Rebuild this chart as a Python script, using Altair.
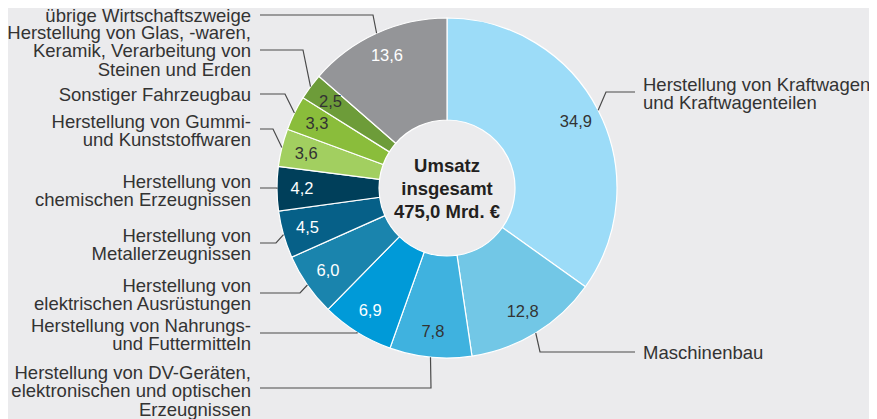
import math
import altair as alt
import pandas as pd

# ---- data ----
categories = [
    "Herstellung von Kraftwagen und Kraftwagenteilen",
    "Maschinenbau",
    "Herstellung von DV-Geräten, elektronischen und optischen Erzeugnissen",
    "Herstellung von Nahrungs- und Futtermitteln",
    "Herstellung von elektrischen Ausrüstungen",
    "Herstellung von Metallerzeugnissen",
    "Herstellung von chemischen Erzeugnissen",
    "Herstellung von Gummi- und Kunststoffwaren",
    "Sonstiger Fahrzeugbau",
    "Herstellung von Glas, -waren, Keramik, Verarbeitung von Steinen und Erden",
    "übrige Wirtschaftszweige",
]
label_texts = [
    "Herstellung von Kraftwagen\nund Kraftwagenteilen",
    "Maschinenbau",
    "Herstellung von DV-Geräten,\nelektronischen und optischen\nErzeugnissen",
    "Herstellung von Nahrungs-\nund Futtermitteln",
    "Herstellung von\nelektrischen Ausrüstungen",
    "Herstellung von\nMetallerzeugnissen",
    "Herstellung von\nchemischen Erzeugnissen",
    "Herstellung von Gummi-\nund Kunststoffwaren",
    "Sonstiger Fahrzeugbau",
    "Herstellung von Glas, -waren,\nKeramik, Verarbeitung von\nSteinen und Erden",
    "übrige Wirtschaftszweige",
]
values = [34.9, 12.8, 7.8, 6.9, 6.0, 4.5, 4.2, 3.6, 3.3, 2.5, 13.6]
value_labels = ["34,9", "12,8", "7,8", "6,9", "6,0", "4,5", "4,2", "3,6", "3,3", "2,5", "13,6"]
center_text = "Umsatz\ninsgesamt\n475,0 Mrd. €"

# ---- styles / layout ----
colors = ["#9cdcf8", "#72c7e6", "#3fb2df", "#009ad8", "#1a84ad", "#066088",
          "#003f5a", "#a2cf60", "#8abd3b", "#6d9c39", "#949598"]
value_colors = ["#333333", "#333333", "#333333", "#ffffff", "#ffffff", "#ffffff",
                "#ffffff", "#333333", "#333333", "#333333", "#ffffff"]
sides = ["R", "R", "L", "L", "L", "L", "L", "L", "L", "L", "L"]
label_first_y = [85, 353, 373, 326, 286, 236, 182, 122, 95, 33, 15.5]
leader_y = [92, 352, 388, 333, 293, 243, 188, 129, 94, 50, 15]
elbow_x = [606, 540, 431, 357, 300, 276, 277, 273, 285, 303, 373]

OFF = 8  # page margin
W, H = 861, 411
CX, CY = 447 - OFF, 188 - OFF
R_OUT, R_IN = 170, 68
FONT = "Liberation Sans"
BG = "#ebebed"
TXT = "#333333"

df = pd.DataFrame({
    "cat": categories,
    "value": values,
    "vlabel": value_labels,
    "tc": value_colors,
    "idx": list(range(len(values))),
})

lab_rows = []
line_rows = []
total = sum(values)
cum = 0.0
for i, v in enumerate(values):
    ang = 2 * math.pi * (cum + v / 2) / total
    cum += v
    sx = CX + R_OUT * math.sin(ang)
    sy = CY - R_OUT * math.cos(ang)
    ly = leader_y[i] - OFF
    ex = elbow_x[i] - OFF
    if sides[i] == "R":
        endx = 635 - OFF
        tx = 643 - OFF
    else:
        endx = 260 - OFF
        tx = 251 - OFF
    lab_rows.append({"t": label_texts[i], "x": tx, "y": label_first_y[i] - OFF,
                     "side": sides[i]})
    for k, (px, py) in enumerate([(sx, sy), (ex, ly), (endx, ly)]):
        line_rows.append({"id": i, "k": k, "px": px, "py": py})

labdf = pd.DataFrame(lab_rows)
linedf = pd.DataFrame(line_rows)

base = alt.Chart(df).encode(
    theta=alt.Theta("value:Q", stack=True),
    order=alt.Order("idx:Q"),
)

arcs = base.mark_arc(
    x=CX, y=CY, outerRadius=R_OUT, innerRadius=R_IN,
    stroke="white", strokeWidth=1.2,
).encode(
    color=alt.Color("cat:N", scale=alt.Scale(domain=categories, range=colors), legend=None)
)

vtext = base.mark_text(
    x=CX, y=CY, radius=145, font=FONT, fontSize=16.5,
    align="center", baseline="middle",
).encode(
    text="vlabel:N",
    color=alt.Color("tc:N", scale=None),
)

leaders = alt.Chart(linedf).mark_line(color="#4a4a4a", strokeWidth=1.2).encode(
    x=alt.X("px:Q", scale=None, axis=None),
    y=alt.Y("py:Q", scale=None, axis=None),
    detail="id:N",
    order="k:Q",
)

left_labels = alt.Chart(labdf[labdf.side == "L"]).mark_text(
    font=FONT, fontSize=18.5, lineHeight=18.4, align="right", baseline="middle",
    color=TXT, lineBreak="\n",
).encode(
    x=alt.X("x:Q", scale=None, axis=None),
    y=alt.Y("y:Q", scale=None, axis=None),
    text="t:N",
)

right_labels = alt.Chart(labdf[labdf.side == "R"]).mark_text(
    font=FONT, fontSize=18.5, lineHeight=18.4, align="left", baseline="middle",
    color=TXT, lineBreak="\n",
).encode(
    x=alt.X("x:Q", scale=None, axis=None),
    y=alt.Y("y:Q", scale=None, axis=None),
    text="t:N",
)

center = alt.Chart(pd.DataFrame({"t": [center_text]})).mark_text(
    font=FONT, fontSize=18.5, fontWeight="bold", lineHeight=23,
    align="center", baseline="middle", color="#231f20", lineBreak="\n",
).encode(
    x=alt.value(CX),
    y=alt.value(166 - OFF),
    text="t:N",
)

chart = alt.layer(arcs, vtext, leaders, left_labels, right_labels, center).properties(
    width=W, height=H,
    autosize=alt.AutoSizeParams(type="none"),
    padding=0,
    background=BG,
).configure_view(stroke=None)

chart.save("out.html", embed_options={"renderer": "svg", "actions": False})
